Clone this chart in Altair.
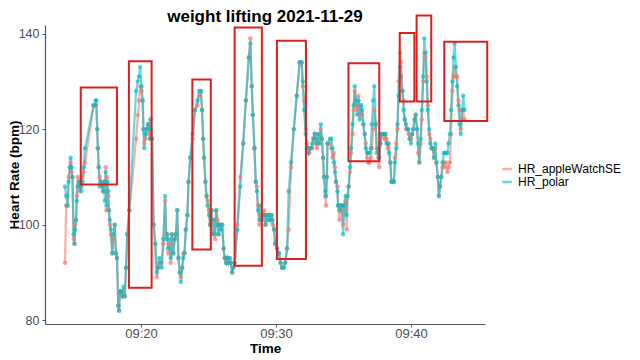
import altair as alt
import pandas as pd

times = [
    "09:14:22", "09:14:27", "09:14:33", "09:14:38", "09:14:44", "09:14:47", "09:14:51", "09:14:55",
    "09:15:00", "09:15:04", "09:15:07", "09:15:11", "09:15:14", "09:15:18", "09:15:24", "09:15:29",
    "09:15:34", "09:15:40", "09:15:45", "09:15:51",
    "09:16:29", "09:16:34", "09:16:38", "09:16:41", "09:16:45", "09:16:48", "09:16:52", "09:16:56",
    "09:17:01", "09:17:07", "09:17:12", "09:17:16", "09:17:19", "09:17:23", "09:17:26", "09:17:30",
    "09:17:34", "09:17:37", "09:17:41", "09:17:46", "09:17:52", "09:17:57", "09:18:03", "09:18:08",
    "09:18:13", "09:18:19", "09:18:22", "09:18:26", "09:18:31", "09:18:37", "09:18:42", "09:18:48",
    "09:18:53", "09:18:59", "09:19:08",
    "09:19:38", "09:19:46", "09:19:51", "09:19:56", "09:20:02", "09:20:07", "09:20:11", "09:20:14",
    "09:20:20", "09:20:25", "09:20:31", "09:20:36", "09:20:40", "09:20:43", "09:20:49", "09:20:56",
    "09:21:03", "09:21:10", "09:21:16", "09:21:21", "09:21:27", "09:21:32", "09:21:39", "09:21:47",
    "09:21:52", "09:21:56", "09:22:01", "09:22:06", "09:22:12", "09:22:17", "09:22:23", "09:22:30",
    "09:22:35", "09:22:41", "09:22:46", "09:22:52", "09:22:57", "09:23:03", "09:23:08", "09:23:13",
    "09:23:19", "09:23:26", "09:23:31", "09:23:39", "09:23:49", "09:24:00", "09:24:11", "09:24:18",
    "09:24:26", "09:24:31", "09:24:36", "09:24:40", "09:24:46", "09:24:51", "09:24:56", "09:25:02",
    "09:25:07", "09:25:13", "09:25:18", "09:25:23", "09:25:29", "09:25:34", "09:25:40", "09:25:45",
    "09:25:50", "09:25:56", "09:26:01", "09:26:07", "09:26:12", "09:26:18", "09:26:23", "09:26:29",
    "09:26:34", "09:26:39", "09:26:45", "09:26:50", "09:26:56",
    "09:27:08", "09:27:21", "09:27:34", "09:27:46", "09:27:59", "09:28:06", "09:28:12", "09:28:17",
    "09:28:24", "09:28:30", "09:28:35", "09:28:40", "09:28:46", "09:28:51", "09:28:57", "09:29:02",
    "09:29:08", "09:29:13", "09:29:18", "09:29:24", "09:29:29", "09:29:35", "09:29:40", "09:29:45",
    "09:29:51", "09:29:56", "09:30:05", "09:30:13", "09:30:20", "09:30:27", "09:30:34", "09:30:41",
    "09:30:49", "09:30:56",
    "09:31:07", "09:31:19", "09:31:32", "09:31:45", "09:31:54", "09:31:59", "09:32:05", "09:32:12",
    "09:32:17", "09:32:23", "09:32:28", "09:32:35", "09:32:41", "09:32:46", "09:32:52", "09:32:57",
    "09:33:02", "09:33:08", "09:33:13", "09:33:19", "09:33:24", "09:33:29", "09:33:33", "09:33:39",
    "09:33:42", "09:33:46", "09:33:49", "09:34:00", "09:34:06", "09:34:11", "09:34:17", "09:34:22",
    "09:34:27", "09:34:33", "09:34:36", "09:34:42", "09:34:47", "09:34:53", "09:34:58", "09:35:03",
    "09:35:09", "09:35:14", "09:35:18", "09:35:23", "09:35:29", "09:35:34", "09:35:40", "09:35:45",
    "09:35:50", "09:35:56", "09:36:01", "09:36:07", "09:36:12", "09:36:18", "09:36:23", "09:36:28",
    "09:36:34", "09:36:39", "09:36:45", "09:36:50", "09:36:56", "09:37:01", "09:37:06", "09:37:12",
    "09:37:17", "09:37:23", "09:37:28", "09:37:34", "09:37:39", "09:37:44", "09:37:50", "09:37:55",
    "09:38:01", "09:38:06", "09:38:11", "09:38:17", "09:38:22", "09:38:28", "09:38:33", "09:38:38",
    "09:38:44", "09:38:49", "09:38:55", "09:39:00", "09:39:05", "09:39:11", "09:39:16", "09:39:22",
    "09:39:27", "09:39:32", "09:39:38", "09:39:43", "09:39:49", "09:39:54", "09:40:00", "09:40:05",
    "09:40:10", "09:40:16", "09:40:21", "09:40:27", "09:40:32", "09:40:37", "09:40:43", "09:40:48",
    "09:40:54", "09:40:59", "09:41:05", "09:41:10", "09:41:15", "09:41:21", "09:41:26", "09:41:32",
    "09:41:37", "09:41:42", "09:41:48", "09:41:53", "09:41:59", "09:42:04", "09:42:09", "09:42:15",
    "09:42:20", "09:42:26", "09:42:31", "09:42:36", "09:42:42", "09:42:47", "09:42:53", "09:42:58",
    "09:43:04", "09:43:09", "09:43:14", "09:43:20", "09:43:25", "09:43:31", "09:43:36", "09:43:41",
    "09:43:47", "09:43:52", "09:43:58",
]

hr_polar = [
    108, 106, 104, 109, 112, 114, 112, 110,
    98, 96, 99, 101, 105, 108, 109, 108,
    107, 109, 112, 116,
    125, 125, 126, 126, 120, 116, 112, 108,
    109, 108, 107, 109, 105, 111, 104, 109,
    107, 103, 101, 99, 94, 98, 100, 94,
    93, 83, 82, 86, 86, 85, 87, 85,
    91, 98, 103,
    128, 130, 131, 133, 129, 126, 120, 116,
    119, 120, 121, 120, 118, 122, 118, 100,
    96, 90, 91, 93, 92, 91, 97, 106,
    97, 98, 95, 97, 93, 98, 94, 97,
    98, 103, 93, 90, 88, 91, 93, 94,
    99, 102, 109, 114, 119, 124, 126, 128,
    128, 124, 118, 114, 109, 106, 104, 102,
    100, 103, 98, 101, 98, 103, 100, 98,
    100, 99, 100, 95, 93, 92, 93, 92,
    93, 92, 90, 91, 92,
    99, 108, 117, 126, 135, 138, 129, 123,
    116, 109, 107, 103, 101, 104, 101, 102,
    102, 100, 102, 101, 102, 101, 102, 101,
    99, 96, 95, 94, 92, 91, 91, 92,
    95, 107,
    113, 120, 127, 134, 134, 130, 124, 119,
    116, 115, 116, 116, 117, 118, 119, 118,
    117, 119, 117, 121, 118, 114, 110, 107,
    106, 110, 117, 118, 118, 116, 113, 111,
    109, 107, 104, 103, 104, 104, 98, 104,
    106, 102, 106, 108, 112, 116, 121, 125,
    129, 126, 123, 126, 122, 125, 124, 121,
    119, 116, 115, 115, 115, 116, 121, 126,
    129, 121, 115, 116, 114, 117, 119, 119,
    119, 119, 117, 117, 115, 113, 109, 109,
    109, 113, 116, 121, 127, 133, 131, 128,
    124, 122, 121, 120, 120, 118, 117, 119,
    120, 122, 123, 120, 117, 113, 118, 124,
    131, 139, 136, 130, 124, 120, 117, 116,
    116, 114, 117, 113, 110, 106, 108, 110,
    113, 115, 115, 115, 115, 117, 119, 124,
    130, 135, 138, 133, 129, 125, 121, 119,
    124, 127, 124,
]

hr_apple = [
    92, 104, 104, 110, 112, 113, 111, 110,
    97, 96, 100, 101, 106, 110, 109, 107,
    108, 110, 111, 113,
    125, 125, 125, 125, 120, 116, 112, 110,
    109, 108, 107, 109, 107, 112, 103, 110,
    106, 103, 100, 98, 94, 97, 100, 94,
    93, 83, 82, 86, 86, 85, 86, 85,
    91, 98, 103,
    118, 123, 126, 129, 128, 126, 120, 117,
    118, 120, 121, 119, 118, 122, 118, 100,
    96, 89, 91, 92, 92, 92, 96, 105,
    98, 98, 94, 96, 92, 98, 94, 97,
    98, 103, 93, 90, 89, 91, 94, 94,
    99, 102, 109, 114, 118, 124, 125, 127,
    128, 124, 118, 114, 109, 106, 105, 103,
    100, 103, 98, 101, 97, 103, 101, 98,
    100, 100, 100, 95, 93, 92, 93, 92,
    93, 92, 90, 91, 92,
    100, 110, 117, 126, 135, 139, 129, 123,
    116, 109, 108, 104, 100, 102, 101, 102,
    103, 100, 102, 102, 102, 101, 102, 100,
    99, 96, 95, 94, 92, 91, 91, 92,
    95, 99,
    112, 120, 127, 134, 134, 129, 126, 120,
    117, 116, 115, 116, 116, 118, 119, 117,
    116, 119, 117, 120, 118, 114, 110, 106,
    104, 110, 117, 117, 116, 114, 115, 112,
    109, 108, 104, 101, 104, 103, 100, 104,
    105, 99, 106, 108, 111, 115, 119, 124,
    128, 125, 124, 127, 123, 125, 123, 121,
    119, 117, 114, 113, 113, 114, 116, 120,
    124, 121, 116, 114, 112, 117, 119, 119,
    118, 119, 118, 116, 117, 113, 109, 109,
    109, 114, 117, 120, 130, 136, 134, 128,
    126, 122, 120, 120, 119, 118, 118, 119,
    120, 122, 123, 120, 115, 113, 117, 122,
    130, 136, 135, 131, 125, 119, 118, 116,
    116, 114, 116, 113, 110, 106, 108, 110,
    112, 113, 112, 113, 111, 112, 113, 119,
    128, 131, 133, 131, 131, 126, 124, 120,
    122, 124, 122,
]

box_start = ["09:15:32", "09:19:06", "09:23:48", "09:26:56", "09:30:04", "09:35:22", "09:39:10", "09:40:25", "09:42:28"]
box_end = ["09:18:13", "09:20:47", "09:25:10", "09:28:57", "09:32:13", "09:37:39", "09:40:15", "09:41:30", "09:45:39"]
box_low = [108.4, 86.8, 94.8, 91.4, 92.8, 113.3, 125.8, 125.8, 121.7]
box_high = [128.7, 134.2, 130.4, 141.3, 138.5, 133.8, 140.1, 143.8, 138.3]

series_names = ["HR_appleWatchSE", "HR_polar"]
series_colors = ["#F8766D", "#00BFC4"]

day = "2021-11-29T"
rows = []
for t, a in zip(times, hr_apple):
    rows.append({"Time": day + t, "variable": series_names[0], "value": a})
for t, p in zip(times, hr_polar):
    rows.append({"Time": day + t, "variable": series_names[1], "value": p})
df = pd.DataFrame(rows)

boxes = pd.DataFrame({
    "start": [day + s for s in box_start],
    "end": [day + e for e in box_end],
    "low": box_low,
    "high": box_high,
})

FONT = "Liberation Sans"

x_scale = alt.Scale(domain=[alt.DateTime(year=2021, month=11, date=29, hours=9, minutes=12, seconds=53),
                            alt.DateTime(year=2021, month=11, date=29, hours=9, minutes=45, seconds=29)])
y_scale = alt.Scale(domain=[79.2, 141.8], nice=False, zero=False)

x_axis = alt.Axis(
    title="Time", format="%H:%M",
    values=[alt.DateTime(year=2021, month=11, date=29, hours=9, minutes=m) for m in (20, 30, 40)],
    grid=False, tickSize=3, labelPadding=0, titlePadding=1,
)
y_axis = alt.Axis(
    title="Heart Rate (bpm)", values=[80, 100, 120, 140], grid=False,
    tickSize=3, labelPadding=3, labelFontSize=12.5,
    titleX=-30.5, titleBaseline="middle", titleAnchor="middle",
)

color = alt.Color(
    "variable:N",
    scale=alt.Scale(domain=series_names, range=series_colors),
    legend=alt.Legend(
        title=None, orient="none", legendX=456, legendY=138,
        symbolType="stroke", symbolStrokeWidth=2.5, symbolSize=90,
        labelFontSize=12, labelFont=FONT, labelColor="#000000",
        labelOffset=5, rowPadding=1, padding=0, symbolOpacity=0.6,
    ),
)

base = alt.Chart(df).encode(
    x=alt.X("Time:T", scale=x_scale, axis=x_axis),
    y=alt.Y("value:Q", scale=y_scale, axis=y_axis),
    color=color,
    detail="variable:N",
)

lines = base.mark_line(strokeWidth=2.2, opacity=0.6)
points = base.mark_circle(size=20, opacity=0.65)

rects = alt.Chart(boxes).mark_rect(
    fill=None, filled=False, stroke="#DD1F1F", strokeWidth=2
).encode(
    x="start:T", x2="end:T", y="low:Q", y2="high:Q",
)

chart = alt.layer(lines, points, rects).properties(
    width=440, height=299,
    title=alt.TitleParams("weight lifting 2021-11-29", fontSize=17, font=FONT,
                          fontWeight="bold", anchor="middle", offset=0, dy=12, color="#000000"),
    autosize=alt.AutoSizeParams(type="none"),
    padding={"left": 37, "top": 17, "right": 147, "bottom": 36},
).configure_view(stroke=None).configure_axis(
    domainColor="#555555", domainWidth=1.2, tickColor="#555555",
    labelFont=FONT, labelFontSize=13, labelColor="#4D4D4D",
    titleFont=FONT, titleFontSize=13.5, titleFontWeight="bold", titleColor="#000000",
)

chart.save("out.html", embed_options={"renderer": "svg", "actions": False})
